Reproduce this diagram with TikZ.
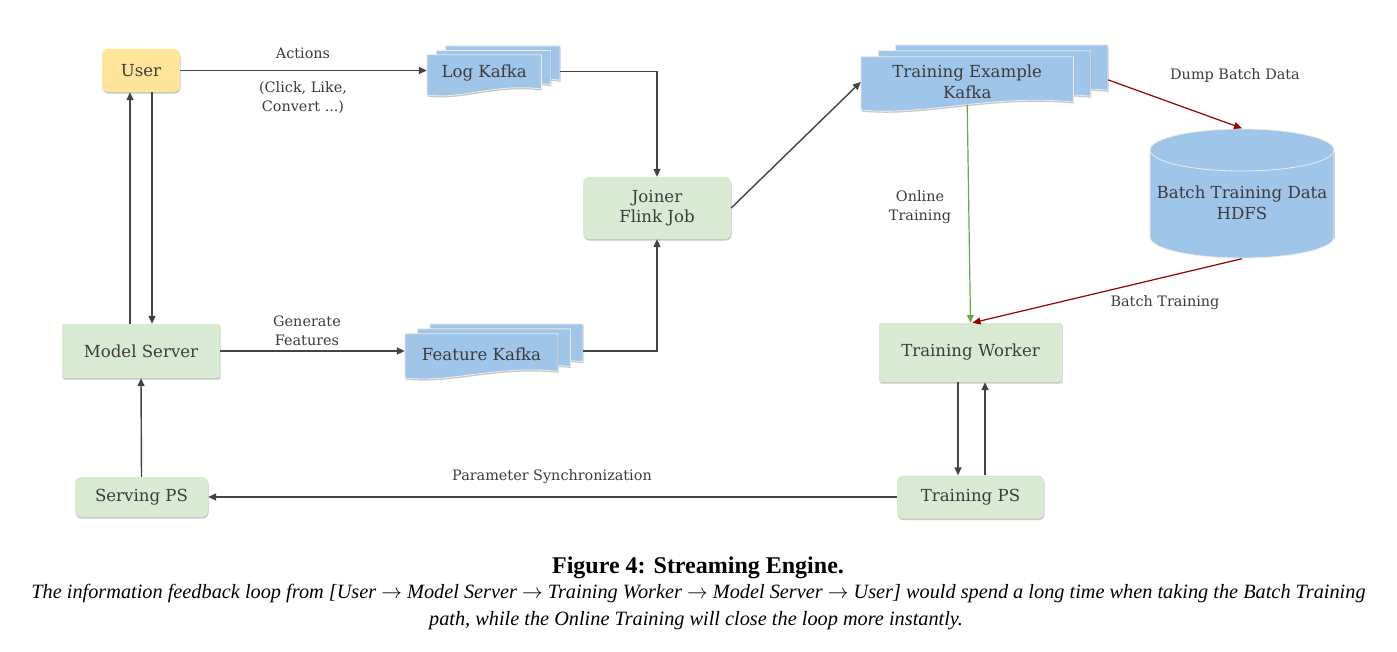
\documentclass[tikz,border=0pt]{standalone}
\usepackage{fontspec}
\setmainfont{DejaVu Serif}
\newfontfamily\capfont{Liberation Serif}
\usetikzlibrary{arrows.meta,shadows}
\definecolor{txt}{HTML}{3C3C3C}
\definecolor{lnk}{HTML}{444444}
\definecolor{gfill}{HTML}{D9EAD3}
\definecolor{yfill}{HTML}{FFE599}
\definecolor{bfill}{HTML}{9FC5E8}
\definecolor{gline}{HTML}{6AA84F}
\definecolor{rline}{HTML}{990000}
\tikzset{
  shad/.style={drop shadow={shadow xshift=0.6pt,shadow yshift=-1.6pt,opacity=0.22,fill=black}},
  greenbox/.style={fill=gfill,draw=none,text=txt,inner sep=0pt,align=center,shad},
  roundbox/.style={greenbox,rounded corners=6pt},
  userbox/.style={roundbox,fill=yfill},
  docpage/.style={fill=bfill,draw=white!92!black,line width=0.8pt,shad},
  lbl/.style={text=txt,align=center,inner sep=0pt,font=\fontsize{14.4}{18.5}\selectfont},
  arr/.style={draw=lnk,line width=1.4pt,-{Triangle[length=8pt,width=7pt]}},
  plain/.style={draw=lnk,line width=1.4pt},
}
\newcommand{\mdoc}[6]{%
  \pgfmathsetmacro\mdW{#4-(#2)}%
  \pgfmathsetmacro\mdH{#5-(#3)}%
  \pgfmathsetmacro\mdw{0.86*\mdW}%
  \pgfmathsetmacro\mdh{0.82*\mdH}%
  \foreach \i in {2,1,0}{%
    \pgfmathsetmacro\ox{#2+\i*0.07*\mdW}%
    \pgfmathsetmacro\oy{#5-\i*0.09*\mdH}%
    \pgfmathsetmacro\ot{\oy-\mdh}%
    \pgfmathsetmacro\orr{\ox+\mdw}%
    \pgfmathsetmacro\oa{\oy-0.15*\mdh}%
    \pgfmathsetmacro\cax{\ox+0.6*\mdw}%
    \pgfmathsetmacro\cay{\oy-0.30*\mdh}%
    \pgfmathsetmacro\cbx{\ox+0.3*\mdw}%
    \pgfmathsetmacro\cby{\oy+0.12*\mdh}%
    \path[docpage] (\ox,\ot) -- (\orr,\ot) -- (\orr,\oa) .. controls (\cax,\cay) and (\cbx,\cby) .. (\ox,\oy) -- cycle;
  }%
  \pgfmathsetmacro\fcx{#2+0.5*\mdw}%
  \pgfmathsetmacro\fcy{#5-0.5*\mdh-1.5}%
  \pgfmathsetmacro\fh{0.85*\mdh}%
  \node[text=txt,align=center,inner sep=0pt,minimum width=\mdw pt,minimum height=\fh pt] (#1) at (\fcx,\fcy) {#6};
  \pgfmathsetmacro\ry{\fcy-2}%
  \coordinate (#1-r) at (#4,\ry);
}
\begin{document}
\begin{tikzpicture}[x=1pt,y=-1pt,font=\fontsize{16.6}{20.5}\selectfont]
\useasboundingbox[fill=white] (0,0) rectangle (1397,652);

% boxes
\node[userbox,minimum width=78pt,minimum height=43pt] (user) at (141,70.5) {User};
\node[roundbox,minimum width=148pt,minimum height=62pt] (joiner) at (657,208) {Joiner\\Flink Job};
\node[greenbox,rounded corners=1.5pt,minimum width=158pt,minimum height=54pt] (model) at (141,351) {Model Server};
\node[greenbox,rounded corners=1.5pt,minimum width=183pt,minimum height=59pt] (worker) at (970.5,352.5) {Training Worker};
\node[roundbox,minimum width=133pt,minimum height=40pt] (serving) at (141.5,497) {Serving PS};
\node[roundbox,minimum width=147pt,minimum height=43pt] (tps) at (970.5,497) {Training PS};

% kafka stacks
\mdoc{logk}{427}{46}{560}{95}{Log Kafka}
\mdoc{featk}{405}{324}{583}{378}{Feature Kafka}
\mdoc{tek}{861}{45}{1108}{110}{Training Example\\Kafka}

% HDFS cylinder
\fill[bfill,shad] (1150,150) rectangle (1334,237.5);
\fill[bfill] (1242,237) ellipse [x radius=92, y radius=21];
\fill[bfill] (1242,150) ellipse [x radius=92, y radius=21];
\draw[white!92!black,line width=0.8pt] (1242,150) ellipse [x radius=92, y radius=21];
\draw[white!92!black,line width=0.8pt] (1150,150) -- (1150,237) arc[start angle=180,end angle=0,x radius=92,y radius=21] -- (1334,150);
\node[inner sep=0pt,minimum width=184pt,minimum height=130pt] (hdfs) at (1242,193.5) {};
\node[text=txt,align=center,inner sep=0pt] (hdfslbl) at (1242,203) {Batch Training Data\\HDFS};

% connectors
\draw[arr] (user.east) -- (user.east -| logk.west);
\draw[arr] (logk-r) -| (joiner.north);
\draw[arr] (model.east) -- (model.east -| featk.west);
\draw[arr] (featk-r |- model.east) -| (joiner.south);
\draw[arr] (joiner.east) -- (tek.west);
\draw[arr] ([xshift=-11pt]model.north) -- ([xshift=-11pt]user.south);
\draw[arr] ([xshift=11pt]user.south) -- ([xshift=11pt]model.north);
\draw[arr] (serving.north) -- (model.south);
\draw[arr] (tps.west) -- (serving.east);
\draw[arr] ([xshift=-12.5pt]worker.south) -- ([xshift=-12.5pt]tps.north);
\draw[arr] ([xshift=14.5pt]tps.north) -- ([xshift=14.5pt]worker.south);
\draw[arr,draw=gline,line width=1.2pt] (tek.south) -- (worker.north);
\draw[arr,draw=rline,line width=1.2pt] (tek-r) -- (hdfs.north);
\draw[arr,draw=rline,line width=1.2pt] (hdfs.south) -- ([xshift=2pt]worker.north);

% labels
\node[lbl] (actions) at (303,53) {Actions};
\node[lbl] (clicks) at (303,97.5) {(Click, Like,\\Convert ...)};
\node[lbl] (genfeat) at (307,331) {Generate\\Features};
\node[lbl] (paramsync) at (552,477) {Parameter Synchronization};
\node[lbl] (online) at (920,207) {Online\\Training};
\node[lbl] (dump) at (1235,76) {Dump Batch Data};
\node[lbl] (batch) at (1165,303) {Batch Training};

% caption
\node[inner sep=0pt,font=\capfont\bfseries\fontsize{24}{26}\selectfont] (cap) at (698,568) {Figure 4: Streaming Engine.};
\node[inner sep=0pt,font=\capfont\itshape\fontsize{20.3}{22}\selectfont] (cap1) at (698.5,594) {The information feedback loop from [User $\rightarrow$ Model Server $\rightarrow$ Training Worker $\rightarrow$ Model Server $\rightarrow$ User] would spend a long time when taking the Batch Training};
\node[inner sep=0pt,font=\capfont\itshape\fontsize{20.3}{22}\selectfont] (cap2) at (696,621) {path, while the Online Training will close the loop more instantly.};
\end{tikzpicture}
\end{document}
